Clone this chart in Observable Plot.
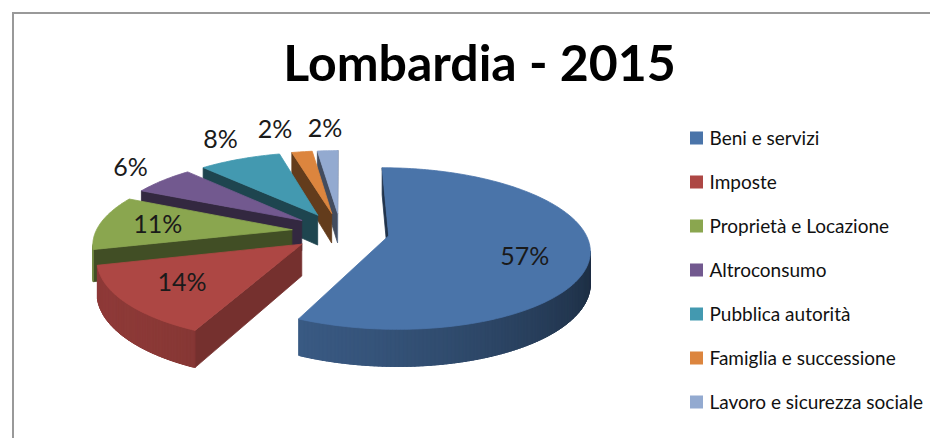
<!DOCTYPE html>
<html><head><meta charset="utf-8">
<script src="https://cdn.jsdelivr.net/npm/d3@7"></script>
<script src="https://cdn.jsdelivr.net/npm/@observablehq/plot@0.6"></script>
<style>
body{margin:0;background:#fff;}
#wrap{position:relative;width:930px;height:438px;overflow:hidden;background:#fff;}
#wrap svg{position:absolute;left:0;top:0;}
#frame{position:absolute;left:12px;top:12px;width:940px;height:450px;border-left:2px solid #999;border-top:2px solid #999;pointer-events:none;}
</style></head><body><div id="wrap"></div>
<script>
// ---- data ----
const title = "Lombardia - 2015";
const categories = ["Beni e servizi","Imposte","Proprietà e Locazione","Altroconsumo","Pubblica autorità","Famiglia e successione","Lavoro e sicurezza sociale"];
const values = [57,14,11,6,8,2,2];
const colors = ["#4a74a9","#ad4744","#8aa64f","#72598f","#4399b0","#dc853e","#93aad0"];

// ---- 3D projection of the exploded pie ----
const W = 930, H = 438;
const cx = 340, cy = 231, R = 196, K = 0.395, D = 1250, E = 49, T = 31;
function proj(u, v, z) { const p = D / (D + v); return [cx + u * p, cy - (v * K + z) * p]; }
const total = d3.sum(values);
let acc = 0;
const slices = values.map((v, i) => {
  const a0 = acc / total * 2 * Math.PI; acc += v;
  const a1 = acc / total * 2 * Math.PI; const m = (a0 + a1) / 2;
  return {i, name: categories[i], value: v, a0, a1, m, ou: E * Math.sin(m), ov: E * Math.cos(m), color: colors[i]};
});
const pt = (s, r, a, z) => proj(s.ou + r * Math.sin(a), s.ov + r * Math.cos(a), z);
function area(pts) { let s = 0; for (let j = 0; j < pts.length; j++) { const [x1, y1] = pts[j], [x2, y2] = pts[(j + 1) % pts.length]; s += x1 * y2 - x2 * y1; } return s / 2; }
const shade = (c, t) => d3.interpolateRgb(c, "#000")(t);
const deg = Math.PI / 180;
const sideShade = a => 0.18 + 0.47 * Math.pow((1 - Math.cos(a - 250 * deg)) / 2, 1.2);
const wallShade = n => 0.55 - 0.25 * Math.pow(Math.max(0, Math.cos(n - 100 * deg)), 3);

const rows = []; let fid = 0;
function addFace(pts, fill) { const id = fid++; for (const [x, y] of [...pts, pts[0]]) rows.push({face: id, x, y, fill}); }
const order = slices.slice().sort((a, b) => b.ov - a.ov);
for (const s of order) {
  const C0 = proj(s.ou, s.ov, 0), C1 = proj(s.ou, s.ov, -T);
  const walls = [];
  walls.push({pts: [C0, pt(s, R, s.a0, 0), pt(s, R, s.a0, -T), C1], t: wallShade(s.a0 - Math.PI / 2)});
  walls.push({pts: [pt(s, R, s.a1, 0), C0, C1, pt(s, R, s.a1, -T)], t: wallShade(s.a1 + Math.PI / 2)});
  const n = Math.max(2, Math.ceil((s.a1 - s.a0) / deg));
  const step = (s.a1 - s.a0) / n;
  for (let j = 0; j < n; j++) {
    const b0 = s.a0 + step * j, b1 = s.a0 + step * (j + 1);
    const test = [pt(s, R, b0, 0), pt(s, R, b1, 0), pt(s, R, b1, -T), pt(s, R, b0, -T)];
    if (area(test) >= 0) continue;
    const c0 = Math.max(s.a0, b0 - step * 0.6), c1 = Math.min(s.a1, b1 + step * 0.6);
    walls.push({pts: [pt(s, R, c0, 0), pt(s, R, c1, 0), pt(s, R, c1, -T), pt(s, R, c0, -T)], t: sideShade((b0 + b1) / 2), side: true});
  }
  for (const w of walls) if (w.side || area(w.pts) < 0) addFace(w.pts, shade(s.color, w.t));
  const top = [C0];
  for (let j = 0; j <= n; j++) top.push(pt(s, R, s.a0 + step * j, 0));
  addFace(top, s.color);
}

// ---- data labels (inside for big slices, outside otherwise) ----
const labels = slices.map(s => {
  if (s.value >= 10) { const [x, y] = pt(s, 0.7 * R, s.m + (s.value > 50 ? 0.16 : 0), 0); return {x, y, text: s.value + "%", out: false}; }
  const [ex, ey] = pt(s, R, s.m, 0);
  return {x: ex + Math.sin(s.m) * 40, y: ey - Math.cos(s.m) * 22, text: s.value + "%", out: true};
});
const outs = labels.filter(d => d.out);
for (let j = outs.length - 2; j >= 0; j--) if (outs[j].x > outs[j + 1].x - 50) outs[j].x = outs[j + 1].x - 50;

// ---- legend ----
const legend = categories.map((name, i) => ({name, color: colors[i], y: 138 + i * 44}));

const chart = Plot.plot({
  width: W, height: H, margin: 0,
  x: {domain: [0, W], range: [0, W], axis: null},
  y: {domain: [0, H], range: [0, H], axis: null},
  color: {type: "identity"},
  style: {background: "transparent", fontFamily: "Lato"},
  marks: [
    Plot.line(rows, {x: "x", y: "y", z: "face", fill: "fill", stroke: "fill", strokeWidth: 0.8, strokeLinejoin: "round", curve: "linear"}),
    Plot.text(labels, {x: "x", y: "y", text: "text", fontSize: 25, fill: "#1a1a1a", fontFamily: "Lato"}),
    Plot.rect(legend, {x1: 690, x2: 703, y1: d => d.y - 6.5, y2: d => d.y + 6.5, fill: "color"}),
    Plot.text(legend, {x: 709, y: "y", text: "name", textAnchor: "start", fontSize: 19, fill: "#111", fontFamily: "Lato", letterSpacing: "-0.75px", wordSpacing: "-2px"}),
    Plot.text([title], {frameAnchor: "top", dx: 14, dy: 45, lineAnchor: "top", fontSize: 50, fontWeight: "bold", fill: "#000", fontFamily: "Lato"})
  ]
});
const wrap = document.getElementById("wrap");
wrap.appendChild(chart);
const fr = document.createElement("div"); fr.id = "frame"; wrap.appendChild(fr);
</script></body></html>
